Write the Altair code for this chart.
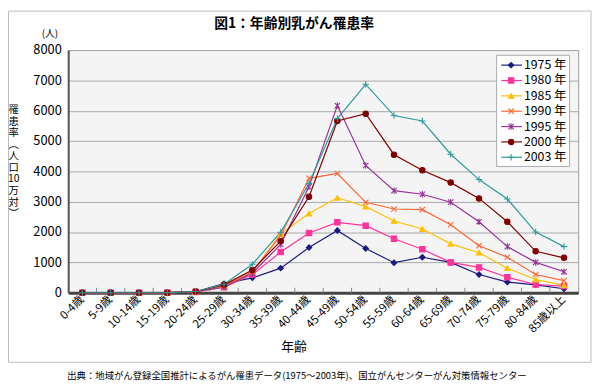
import altair as alt
import pandas as pd

FONT = "Noto Sans CJK JP"

ages = ["0-4歳", "5-9歳", "10-14歳", "15-19歳", "20-24歳", "25-29歳", "30-34歳",
        "35-39歳", "40-44歳", "45-49歳", "50-54歳", "55-59歳", "60-64歳", "65-69歳",
        "70-74歳", "75-79歳", "80-84歳", "85歳以上"]
years = ["1975", "1980", "1985", "1990", "1995", "2000", "2003"]

v1975 = [0, 0, 0, 1, 30, 300, 490, 810, 1490, 2050, 1460, 990, 1170, 1000, 600, 350, 260, 130]
v1980 = [0, 0, 0, 1, 25, 180, 600, 1340, 1970, 2320, 2210, 1780, 1435, 1000, 835, 510, 270, 220]
v1985 = [0, 0, 0, 1, 30, 200, 680, 1940, 2610, 3130, 2840, 2365, 2100, 1610, 1320, 810, 435, 240]
v1990 = [0, 0, 0, 2, 35, 220, 690, 1890, 3770, 3930, 2980, 2760, 2740, 2240, 1550, 1170, 600, 400]
v1995 = [0, 0, 0, 2, 35, 180, 650, 1590, 3490, 6170, 4195, 3365, 3245, 2985, 2340, 1520, 1000, 690]
v2000 = [0, 0, 0, 2, 40, 260, 750, 1700, 3165, 5660, 5900, 4550, 4035, 3630, 3110, 2340, 1365, 1150]
v2003 = [0, 0, 0, 2, 40, 280, 940, 1995, 3600, 5740, 6870, 5840, 5660, 4565, 3730, 3090, 2000, 1520]
series = [v1975, v1980, v1985, v1990, v1995, v2000, v2003]

legend_labels = [y + " 年" for y in years]
y_ticks = [0, 1000, 2000, 3000, 4000, 5000, 6000, 7000, 8000]

title_text = "図1：年齢別乳がん罹患率"
unit_text = "(人)"
y_title = "\n".join(["罹", "患", "率", "︵", "人", "口", "10", "万", "対", "︶"])
x_title = "年齢"
footnote = "出典：地域がん登録全国推計によるがん罹患データ(1975～2003年)、国立がんセンターがん対策情報センター"

colors = ["#1a1a80", "#ff3399", "#ffc000", "#ff6633", "#993399", "#800000", "#2e9a9a"]
X_PATH = "M-1,-1L1,1M-1,1L1,-1"
AST_PATH = "M-1,-1L1,1M-1,1L1,-1M0,-1.2L0,1.2"
PLUS_PATH = "M-1.2,0L1.2,0M0,-1.2L0,1.2"
shapes = ["diamond", "square", "triangle-up", X_PATH, AST_PATH, "circle", PLUS_PATH]

W, H = 517, 246

rows = []
for yr, vals in zip(years, series):
    for a, v in zip(ages, vals):
        rows.append({"age": a, "year": yr, "value": v})
df = pd.DataFrame(rows)

color_scale = alt.Scale(domain=years, range=colors)
shape_scale = alt.Scale(domain=years, range=shapes)
x_scale = alt.Scale(domain=ages)

x_axis = alt.Axis(
    title=x_title, titleX=228.5, titleY=55, titleAlign="center", titleBaseline="middle",
    titleFontSize=13, titleFontWeight="normal", titleColor="#000",
    labelAngle=-45, labelAlign="right", labelBaseline="middle", labelFontSize=11.5,
    labelPadding=5, labelColor="#000", labelOverlap=False, ticks=False, grid=False,
    domainColor="#444", domainWidth=3)
y_axis = alt.Axis(
    title="", values=y_ticks, format="d", labelOverlap=False,
    labelFontSize=13, labelPadding=7, labelColor="#000",
    ticks=False, domainColor="#555", domainWidth=2,
    gridColor="#a8a8a8", gridWidth=1)
y_scale = alt.Scale(domain=[0, 8000], nice=False)

x_enc = alt.X("age:N", sort=ages, scale=x_scale, axis=x_axis)
y_enc = alt.Y("value:Q", scale=y_scale, axis=y_axis)
color_enc = alt.Color("year:N", scale=color_scale, legend=None)
stroke_enc = alt.Stroke("year:N", scale=color_scale, legend=None)
shape_enc = alt.Shape("year:N", scale=shape_scale, legend=None)

tick_df = pd.DataFrame({"age": ages[:-1]})
ticks = alt.Chart(tick_df).mark_rule(color="#888", strokeWidth=1, xOffset=W / 36).encode(
    x=x_enc, y=alt.value(H), y2=alt.value(H - 5))

lines = alt.Chart(df).mark_line(strokeWidth=1.2).encode(
    x=x_enc, y=y_enc, color=color_enc)
points = alt.Chart(df).mark_point(filled=True, size=30, strokeWidth=1.1, opacity=1).encode(
    x=x_enc, y=y_enc, color=color_enc, stroke=stroke_enc, shape=shape_enc)

# legend rows placed through an offset scale (no y-scale sharing with the data)
leg_df = pd.DataFrame({"year": years, "label": legend_labels})
leg_off = alt.YOffset("year:N", sort=years,
                      scale=alt.Scale(type="point", domain=years, range=[0, 93.4], padding=0))
LEG_TOP = 15.3
box = alt.Chart(alt.Data(values=[{}])).mark_rect(fill="white", stroke="#aaa", strokeWidth=1).encode(
    x=alt.value(434.3), x2=alt.value(508.3), y=alt.value(5.3), y2=alt.value(118))
leg_rules = alt.Chart(leg_df).mark_rule(strokeWidth=1.2).encode(
    x=alt.value(439), x2=alt.value(460), y=alt.value(LEG_TOP), yOffset=leg_off, color=color_enc)
leg_pts = alt.Chart(leg_df).mark_point(filled=True, size=30, strokeWidth=1.1, opacity=1).encode(
    x=alt.value(449), y=alt.value(LEG_TOP), yOffset=leg_off,
    color=color_enc, stroke=stroke_enc, shape=shape_enc)
leg_txt = alt.Chart(leg_df).mark_text(align="left", baseline="middle", fontSize=12.5,
                                      font=FONT, color="#000").encode(
    x=alt.value(462), y=alt.value(LEG_TOP), yOffset=leg_off, text="label:N")

frame = alt.Chart(alt.Data(values=[{}])).mark_rect(fill="transparent", stroke="#bbb", strokeWidth=1).encode(
    x=alt.value(-60.5), x2=alt.value(530), y=alt.value(-39.5), y2=alt.value(316.5))

title = alt.Chart(alt.Data(values=[{"t": title_text}])).mark_text(
    align="center", baseline="middle", fontSize=14, fontWeight="bold", font=FONT, color="#000").encode(
    x=alt.value(229), y=alt.value(-26.5), text="t:N")
unit = alt.Chart(alt.Data(values=[{"t": unit_text}])).mark_text(
    align="center", baseline="middle", fontSize=10, font=FONT, color="#000").encode(
    x=alt.value(-18.5), y=alt.value(-16.5), text="t:N")
ytitle = alt.Chart(alt.Data(values=[{"t": y_title}])).mark_text(
    align="center", baseline="top", fontSize=10.5, lineHeight=11.7, lineBreak="\n",
    font=FONT, color="#000").encode(
    x=alt.value(-55.3), y=alt.value(56), text="t:N")
foot = alt.Chart(alt.Data(values=[{"t": footnote}])).mark_text(
    align="left", baseline="middle", fontSize=9.5, font=FONT, color="#000").encode(
    x=alt.value(-1), y=alt.value(330), text="t:N")

chart = alt.layer(
    frame, ticks, lines, points, box, leg_rules, leg_pts, leg_txt, title, unit, ytitle, foot
).properties(
    width=W, height=H,
    padding={"left": 61, "top": 40, "right": 14, "bottom": 97},
    autosize=alt.AutoSizeParams(type="none"),
    background="white",
).configure_view(
    fill="#f4f4f4", stroke="#999", strokeWidth=1
).configure_axis(
    labelFont=FONT, titleFont=FONT
).configure_text(font=FONT)

chart.save("out.html", embed_options={"renderer": "svg", "actions": False})
